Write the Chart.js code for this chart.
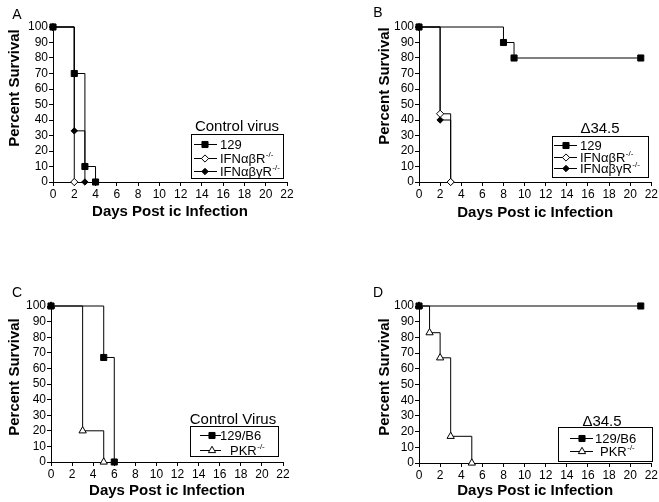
<!DOCTYPE html>
<html>
<head>
<meta charset="utf-8">
<title>Percent Survival</title>
<script src="https://cdn.jsdelivr.net/npm/chart.js@4.4.1/dist/chart.umd.min.js"></script>
<style>
  html, body { margin: 0; padding: 0; background: #fff; }
  #wrap { position: relative; width: 659px; height: 502px; overflow: hidden; }
  #wrap canvas { position: absolute; }
</style>
</head>
<body>
<div id="wrap">
  <canvas id="painel-a" style="left:0;top:0" width="330" height="225"></canvas>
  <canvas id="painel-b" style="left:330px;top:0" width="329" height="225"></canvas>
  <canvas id="painel-c" style="left:0;top:250px" width="330" height="252"></canvas>
  <canvas id="painel-d" style="left:330px;top:250px" width="329" height="252"></canvas>
</div>
<script>
// Eixos (iguais nos quatro painéis)
const xTicks = [0, 2, 4, 6, 8, 10, 12, 14, 16, 18, 20, 22];
const yTicks = [0, 10, 20, 30, 40, 50, 60, 70, 80, 90, 100];

// Painel A - Control virus
const aDias129 = [0, 2, 3, 4];
const aSobr129 = [100, 70, 10, 0];
const aDiasAB = [0, 2];
const aSobrAB = [100, 0];
const aDiasABG = [0, 2, 3];
const aSobrABG = [100, 33, 0];

// Painel B - Δ34.5
const bDias129 = [0, 8, 9, 21];
const bSobr129 = [100, 90, 80, 80];
const bDiasAB = [0, 2, 3];
const bSobrAB = [100, 44, 0];
const bDiasABG = [0, 2, 3];
const bSobrABG = [100, 40, 0];

// Painel C - Control Virus
const cDiasB6 = [0, 5, 6];
const cSobrB6 = [100, 67, 0];
const cDiasPKR = [0, 3, 5];
const cSobrPKR = [100, 20, 0];

// Painel D - Δ34.5
const dDiasB6 = [0, 21];
const dSobrB6 = [100, 100];
const dDiasPKR = [0, 1, 2, 3, 5];
const dSobrPKR = [100, 83, 67, 17, 0];

const FONTE = "'Liberation Sans', Arial, Helvetica, sans-serif";
Chart.defaults.font.family = FONTE;
Chart.defaults.font.size = 12;
Chart.defaults.color = '#000';

function pontos(dias, sobr) {
    return dias.map((d, i) => ({ x: d, y: sobr[i] }));
}

// estilos das séries
function serie129(label, dias, sobr) {
    return { label, data: pontos(dias, sobr), pointStyle: 'rect', pointRadius: 4.3,
             pointBackgroundColor: '#000' };
}
function serieAB(label, dias, sobr) {
    return { label, data: pontos(dias, sobr), pointStyle: 'rectRot', pointRadius: 3.6,
             pointBackgroundColor: '#fff' };
}
function serieABG(label, dias, sobr) {
    return { label, data: pontos(dias, sobr), pointStyle: 'rectRot', pointRadius: 3.2,
             pointBackgroundColor: '#000' };
}
function seriePKR(label, dias, sobr) {
    return { label, data: pontos(dias, sobr), pointStyle: 'triangle', pointRadius: 4.2,
             pointBackgroundColor: '#fff' };
}

// marcador da legenda (mesmo desenho do Chart.js)
function marcador(ctx, ds, x, y) {
    const r = ds.pointRadius;
    ctx.beginPath();
    if (ds.pointStyle === 'rect') {
        const s = Math.SQRT1_2 * r;
        ctx.rect(x - s, y - s, 2 * s, 2 * s);
    } else if (ds.pointStyle === 'rectRot') {
        ctx.moveTo(x, y - r); ctx.lineTo(x + r, y); ctx.lineTo(x, y + r); ctx.lineTo(x - r, y);
        ctx.closePath();
    } else {
        const a = 2 * Math.PI / 3;
        ctx.moveTo(x, y - r);
        ctx.lineTo(x + Math.sin(a) * r, y - Math.cos(a) * r);
        ctx.lineTo(x + Math.sin(2 * a) * r, y - Math.cos(2 * a) * r);
        ctx.closePath();
    }
    ctx.fillStyle = ds.pointBackgroundColor;
    ctx.fill();
    ctx.stroke();
}

// textos do painel: letra, títulos dos eixos e legenda
const painelTextos = {
    id: 'painelTextos',
    afterDraw(chart, args, o) {
        const ctx = chart.ctx;
        const area = chart.chartArea;
        ctx.save();
        ctx.fillStyle = '#000';
        ctx.strokeStyle = '#000';
        ctx.lineWidth = 1;
        ctx.textAlign = 'center';
        ctx.textBaseline = 'middle';

        ctx.font = '14px ' + FONTE;
        ctx.fillText(o.letra, o.letraX, o.letraY);

        ctx.font = 'bold 15px ' + FONTE;
        ctx.fillText('Days Post ic Infection', (area.left + area.right) / 2, o.tituloX);
        ctx.save();
        ctx.translate(o.tituloYx, o.tituloYy);
        ctx.rotate(-Math.PI / 2);
        ctx.fillText('Percent Survival', 0, 0);
        ctx.restore();

        const lg = o.legenda;
        ctx.font = '15px ' + FONTE;
        ctx.fillText(lg.titulo, lg.tituloX, lg.tituloY);
        const c = lg.caixa;
        ctx.strokeRect(c[0] + 0.5, c[1] + 0.5, c[2] - c[0], c[3] - c[1]);

        chart.data.datasets.forEach((ds, i) => {
            const y = lg.linhas[i];
            ctx.beginPath();
            ctx.moveTo(lg.traco[0], y + 0.5);
            ctx.lineTo(lg.traco[1], y + 0.5);
            ctx.stroke();
            marcador(ctx, ds, lg.marcaX, y + 0.5);

            ctx.fillStyle = '#000';
            ctx.textAlign = 'left';
            let txt = ds.label, sup = '';
            if (txt.endsWith('-/-')) { sup = '-/-'; txt = txt.slice(0, -3); }
            ctx.font = '13px ' + FONTE;
            ctx.fillText(txt, lg.textoX[i], y + 1);
            if (sup) {
                const w = ctx.measureText(txt).width;
                ctx.font = '8px ' + FONTE;
                ctx.fillText(sup, lg.textoX[i] + w + 0.5, y - 3.5);
            }
        });
        ctx.restore();
    }
};

// cria um painel; area = [esquerda, direita, topo, base] dentro do canvas
function criarPainel(id, datasets, area, textos) {
    const canvas = document.getElementById(id);
    const W = canvas.width, H = canvas.height;
    return new Chart(canvas.getContext('2d'), {
        type: 'line',
        data: {
            datasets: datasets.map(ds => Object.assign({
                borderColor: '#000',
                borderWidth: 1,
                pointBorderColor: '#000',
                pointBorderWidth: 1,
                stepped: true,
                fill: false,
                clip: false
            }, ds))
        },
        options: {
            responsive: false,
            animation: false,
            devicePixelRatio: 1,
            layout: { padding: { left: 0, top: area[2], right: W - area[1], bottom: 0 } },
            plugins: { legend: { display: false }, tooltip: { enabled: false }, painelTextos: textos },
            scales: {
                x: {
                    type: 'linear', min: 0, max: 22,
                    afterBuildTicks: s => { s.ticks = xTicks.map(v => ({ value: v })); },
                    afterFit: s => { s.height = H - area[3]; },
                    grid: { drawOnChartArea: false, color: '#000', tickLength: 4 },
                    border: { color: '#000', width: 1 },
                    ticks: { padding: 1, maxRotation: 0, autoSkip: false, font: { size: 12 } }
                },
                y: {
                    type: 'linear', min: 0, max: 100,
                    afterBuildTicks: s => { s.ticks = yTicks.map(v => ({ value: v })); },
                    afterFit: s => { s.width = area[0]; },
                    grid: { drawOnChartArea: false, color: '#000', tickLength: 4 },
                    border: { color: '#000', width: 1 },
                    ticks: { padding: 1, autoSkip: false, font: { size: 12 } }
                }
            }
        },
        plugins: [painelTextos]
    });
}

criarPainel('painel-a', [
    serie129('129', aDias129, aSobr129),
    serieAB('IFNαβR-/-', aDiasAB, aSobrAB),
    serieABG('IFNαβγR-/-', aDiasABG, aSobrABG)
], [53, 287, 27, 182], {
    letra: 'A', letraX: 17, letraY: 15, tituloX: 212, tituloYx: 15, tituloYy: 88,
    legenda: { titulo: 'Control virus', tituloX: 237, tituloY: 127, caixa: [191, 134, 283, 178],
               linhas: [144, 158, 171], traco: [194, 217], marcaX: 205, textoX: [220, 220, 220] }
});

criarPainel('painel-b', [
    serie129('129', bDias129, bSobr129),
    serieAB('IFNαβR-/-', bDiasAB, bSobrAB),
    serieABG('IFNαβγR-/-', bDiasABG, bSobrABG)
], [89, 322, 27, 182], {
    letra: 'B', letraX: 48, letraY: 13, tituloX: 213, tituloYx: 55, tituloYy: 86,
    legenda: { titulo: 'Δ34.5', tituloX: 270, tituloY: 129, caixa: [222, 136, 318, 177],
               linhas: [145, 157, 168], traco: [224, 247], marcaX: 236, textoX: [250, 250, 250] }
});

criarPainel('painel-c', [
    serie129('129/B6', cDiasB6, cSobrB6),
    seriePKR('PKR-/-', cDiasPKR, cSobrPKR)
], [51, 283, 56, 212], {
    letra: 'C', letraX: 17, letraY: 43, tituloX: 241, tituloYx: 15, tituloYy: 127,
    legenda: { titulo: 'Control Virus', tituloX: 233, tituloY: 170, caixa: [190, 176, 278, 206],
               linhas: [185, 200], traco: [200, 221], marcaX: 212, textoX: [220, 230] }
});

criarPainel('painel-d', [
    serie129('129/B6', dDiasB6, dSobrB6),
    seriePKR('PKR-/-', dDiasPKR, dSobrPKR)
], [89, 322, 56, 213], {
    letra: 'D', letraX: 48, letraY: 43, tituloX: 241, tituloYx: 55, tituloYy: 127,
    legenda: { titulo: 'Δ34.5', tituloX: 272, tituloY: 172, caixa: [228, 177, 322, 211],
               linhas: [188, 201], traco: [240, 263], marcaX: 252, textoX: [265, 270] }
});
</script>
</body>
</html>
